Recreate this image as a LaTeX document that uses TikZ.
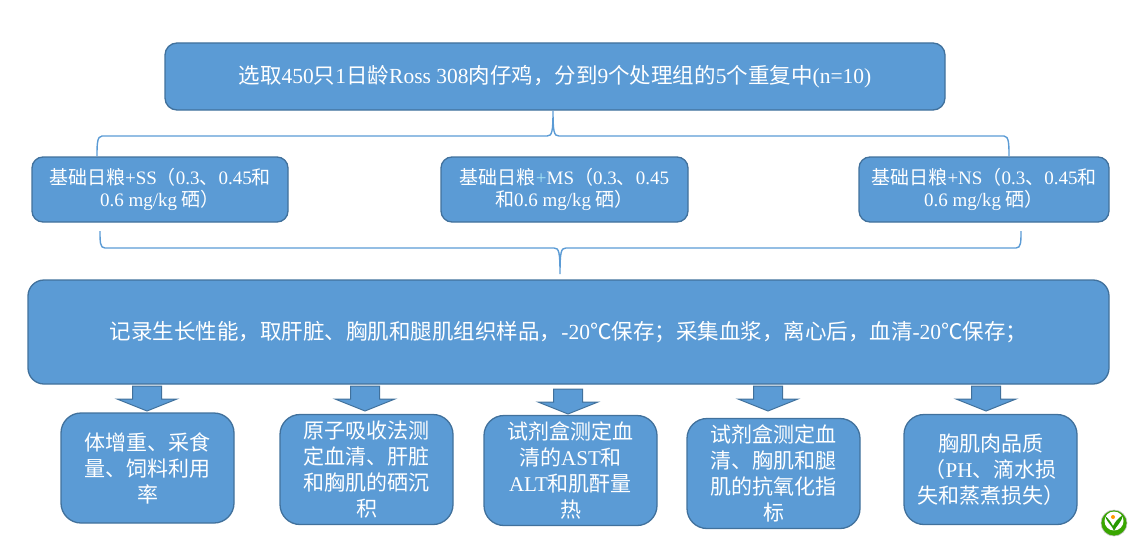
\documentclass[tikz,border=0pt]{standalone}
\usepackage{fontspec}
\setmainfont{Liberation Serif}
\newfontfamily\cjk{Noto Sans CJK SC}
\newcommand{\C}[1]{{\cjk #1}}
\usetikzlibrary{shapes.arrows}
\definecolor{boxfill}{HTML}{5B9BD5}
\definecolor{boxedge}{HTML}{41719C}
\definecolor{bracecol}{HTML}{5B9BD5}
\definecolor{plusc}{HTML}{A8E4F5}
\tikzset{
  flow/.style={draw=boxedge,line width=1.3pt,fill=boxfill,text=white,align=center,inner sep=0pt},
  topbox/.style={flow,rounded corners=12pt,font=\fontsize{21.5}{24}\selectfont},
  midbox/.style={flow,rounded corners=11pt,minimum height=65pt,font=\fontsize{19}{23.5}\selectfont},
  bigbox/.style={flow,rounded corners=16pt,font=\fontsize{21.5}{24}\selectfont},
  lowbox/.style={flow,rounded corners=20pt,minimum width=173pt,minimum height=110pt,font=\fontsize{21}{26}\selectfont},
  downarrow/.style={draw=boxedge,line width=1pt,fill=boxfill,line join=miter},
  bracket/.style={draw=bracecol,line width=1.4pt},
}
\newcommand{\downarr}[3]{% name, x, top y
  \draw[downarrow] (#2-14.5,#3) -- (#2+14.5,#3) -- (#2+14.5,#3+13) -- (#2+30,#3+13) -- (#2,#3+25) -- (#2-30,#3+13) -- (#2-14.5,#3+13) -- cycle;
  \coordinate (#1) at (#2,#3+25);
}
\begin{document}
\begin{tikzpicture}[x=1pt,y=-1pt]
\useasboundingbox (0,0) rectangle (1134,543);
\node[topbox,minimum width=780pt,minimum height=67pt] (top) at (555,76.5)
  {\raisebox{-1.5pt}{\C{选取}450\C{只}1\C{日龄}Ross 308\C{肉仔鸡，分到}9\C{个处理组的}5\C{个重复中}(n=10)}};
\node[midbox,minimum width=256pt] (ss) at (160,189.5)
  {\raisebox{-1pt}{\C{基础日粮}+SS\C{（}0.3\C{、}0.45\C{和}}\\0.6 mg/kg \C{硒）}};
\node[midbox,minimum width=247pt] (ms) at (564.5,189.5)
  {\raisebox{-1pt}{\C{基础日粮}\textcolor{plusc}{+}MS\C{（}0.3\C{、}0.45}\\\C{和}0.6 mg/kg \C{硒）}};
\node[midbox,minimum width=250pt] (ns) at (984,189.5)
  {\raisebox{-1pt}{\C{基础日粮}+NS\C{（}0.3\C{、}0.45\C{和}}\\0.6 mg/kg \C{硒）}};
\node[bigbox,minimum width=1081pt,minimum height=104pt] (big) at (568.5,332)
  {\C{记录生长性能，取肝脏、胸肌和腿肌组织样品，}-20\C{℃保存；采集血浆，离心后，血清}-20\C{℃保存；}};
\node[lowbox] (b1) at (147.5,468) {\C{体增重、采食}\\\C{量、饲料利用}\\\C{率}};
\node[lowbox] (b2) at (366.5,469.5) {\C{原子吸收法测}\\\C{定血清、肝脏}\\\C{和胸肌的硒沉}\\\C{积}};
\node[lowbox] (b3) at (570.5,470.5) {\C{试剂盒测定血}\\\C{清的}AST\C{和}\\ALT\C{和肌酐量}\\\C{热}};
\node[lowbox] (b4) at (773.5,473.5) {\C{试剂盒测定血}\\\C{清、胸肌和腿}\\\C{肌的抗氧化指}\\\C{标}};
\node[lowbox] (b5) at (990.5,469.5) {\C{胸肌肉品质}\\\C{（}PH\C{、滴水损}\\\C{失和蒸煮损失）}};
\downarr{a1}{147}{386}
\downarr{a2}{365}{386}
\downarr{a3}{568}{389}
\downarr{a4}{768}{386}
\downarr{a5}{986}{386}
% upper bracket
\coordinate (utip) at (top.south -| 553,0);
\coordinate (uleft) at (ss.north -| 97,0);
\coordinate (uright) at (ns.north -| 1009,0);
\draw[bracket] (uleft) .. controls (97,145) and (97,136) .. (102,136) -- (547,136)
  .. controls (552,136) and (553,132) .. (utip)
  (utip) .. controls (553,132) and (554,136) .. (559,136) -- (1004,136)
  .. controls (1009,136) and (1009,145) .. (uright);
% lower bracket
\coordinate (ltip) at (560,274);
\coordinate (lleft) at (100,231);
\coordinate (lright) at (1021,231);
\draw[bracket] (lleft) .. controls (100,242) and (100,248) .. (105,248) -- (554,248)
  .. controls (559,248) and (560,252) .. (ltip)
  (ltip) .. controls (560,252) and (561,248) .. (566,248) -- (1016,248)
  .. controls (1021,248) and (1021,242) .. (lright);
% logo
\draw[draw=white!75!black,line width=.6pt,fill=green!50!black!70!lime] (1114,523) circle (13);
\fill[white] (1114,521) circle (9.5);
\fill[green!50!black!80!lime] (1105,516) .. controls (1108,524) and (1112,525) .. (1114,531) .. controls (1116,526) and (1122,522) .. (1123,515) .. controls (1118,518) and (1115,522) .. (1113,526) .. controls (1111,522) and (1108,518) .. (1105,516) -- cycle;
\fill[orange!80!yellow] (1113,517) circle (2);
\end{tikzpicture}
\end{document}
